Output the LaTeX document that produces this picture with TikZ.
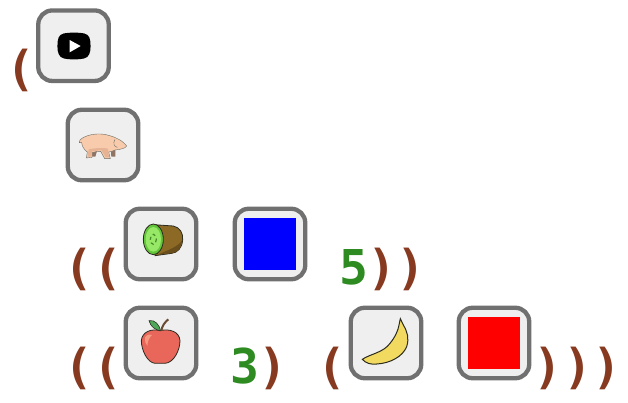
\documentclass[tikz,border=0pt]{standalone}
\usepackage{fontspec}
\newfontfamily\codefont{DejaVu Sans Mono}[BoldFont={DejaVu Sans Mono Bold}]
\definecolor{parencol}{HTML}{873A20}
\definecolor{numcol}{HTML}{2E8B22}
\definecolor{boxcol}{HTML}{707070}
\definecolor{boxfill}{HTML}{EFEFEF}
\definecolor{pigcol}{HTML}{F8CBAC}
\definecolor{pigshade}{HTML}{E6B394}
\definecolor{piglegs}{HTML}{8F7465}
\definecolor{kiwiskin}{HTML}{8C6A26}
\definecolor{kiwishade}{HTML}{6A4E1C}
\definecolor{kiwiflesh}{HTML}{62C63A}
\definecolor{kiwilight}{HTML}{96E866}
\definecolor{applecol}{HTML}{E8665A}
\definecolor{applelight}{HTML}{F49A80}
\definecolor{leafcol}{HTML}{4FA85A}
\definecolor{stemcol}{HTML}{6B4A32}
\definecolor{bananacol}{HTML}{F2DA60}
\definecolor{outlinecol}{HTML}{2B2B20}
\usetikzlibrary{positioning}

\begin{document}
\begin{tikzpicture}
	[x=1pt,y=-1pt,
	item node/.style={shape=rectangle,draw=boxcol,fill=boxfill,line width=4.3pt,rounded corners=14pt,minimum size=70.5pt,inner sep=0pt},
	paren node/.style={anchor=base,inner sep=0pt,text=parencol,font=\codefont\bfseries\fontsize{48}{48}\selectfont},
	num node/.style={anchor=base,inner sep=0pt,text=numcol,font=\codefont\bfseries\fontsize{48}{48}\selectfont},
	swatch node/.style={shape=rectangle,minimum size=52pt,inner sep=0pt},
	zoomed/.style={x=.33333pt,y=-.33333pt}
	]
	\useasboundingbox (0,0) rectangle (628,402);

	% boxes
	\node [item node] (play) at (73.5,45.7) {};
	\node [item node] (pig) at (103,145) {};
	\node [item node] (kiwi) at (161,244) {};
	\node [item node] (bluebox) at (270,244) {};
	\node [item node] (apple) at (161,343) {};
	\node [item node] (banana) at (386,343) {};
	\node [item node] (redbox) at (494,343) {};
	\node [swatch node,fill=blue] (blueswatch) at (bluebox) {};
	\node [swatch node,fill=red] (redswatch) at (redbox) {};

	% parens and numbers
	\node [paren node] (p1) at (21,85.5) {(};
	\node [paren node] (p2) at (79,284.5) {(};
	\node [paren node] (p3) at (108,284.5) {(};
	\node [num node] (five) at (353.5,284.5) {5};
	\node [paren node] (p4) at (382,284.5) {)};
	\node [paren node] (p5) at (411,284.5) {)};
	\node [paren node] (p6) at (79,383.5) {(};
	\node [paren node] (p7) at (108,383.5) {(};
	\node [num node] (three) at (245,383.5) {3};
	\node [paren node] (p8) at (273,383.5) {)};
	\node [paren node] (p9) at (332,383.5) {(};
	\node [paren node] (p10) at (548,383.5) {)};
	\node [paren node] (p11) at (578,383.5) {)};
	\node [paren node] (p12) at (607,383.5) {)};

	% play icon
	\begin{scope}[zoomed]
	\fill [black] (222,98) .. controls (250,98) and (262,100) .. (268,112) .. controls (273,125) and (273,152) .. (268,162) .. controls (262,176) and (250,178) .. (222,178) .. controls (194,178) and (182,176) .. (176,162) .. controls (171,152) and (171,125) .. (176,112) .. controls (182,100) and (194,98) .. (222,98) -- cycle;
	\fill [white] (209,120) -- (242,138) -- (209,157) -- cycle;

	% pig icon
	\fill [piglegs] (276,450) -- (274,470) -- (286,470) -- (292,450) -- cycle;
	\fill [piglegs] (332,445) -- (334,470) -- (346,470) -- (346,445) -- cycle;
	\draw [fill=pigcol,draw=outlinecol!70,line width=.4pt]
		(240,420) .. controls (255,405) and (290,398) .. (318,404)
		.. controls (335,408) and (345,412) .. (352,416)
		.. controls (362,420) and (372,428) .. (380,438)
		.. controls (375,446) and (362,448) .. (345,450)
		.. controls (338,454) and (330,456) .. (326,456)
		-- (331,476) -- (314,476) -- (302,454)
		.. controls (290,454) and (282,456) .. (276,458)
		-- (276,472) -- (259,474) -- (262,456)
		.. controls (250,448) and (246,436) .. (245,428)
		-- (238,428) -- cycle;
	\fill [pigshade] (266,448) .. controls (285,444) and (310,442) .. (324,446) -- (327,472) -- (317,472) -- (304,450) -- (276,454) -- (273,470) -- (263,470) -- cycle;
	\draw [outlinecol!70,line width=.4pt] (345,418) .. controls (338,430) and (342,440) .. (352,442);
	\end{scope}

	% kiwi icon
	\begin{scope}[shift={(60,200)},zoomed]
	\draw [fill=kiwiskin,draw=outlinecol,line width=.8pt] (280,74) -- (340,78) .. controls (360,82) and (370,100) .. (368,120) .. controls (366,145) and (352,158) .. (335,160) -- (285,167) -- cycle;
	\fill [kiwishade] (298,162) .. controls (325,150) and (355,140) .. (367,120) .. controls (366,145) and (352,158) .. (335,160) -- cycle;
	\draw [fill=kiwiflesh,draw=outlinecol,line width=.8pt] (280,118) ellipse [x radius=30,y radius=46];
	\fill [kiwilight] (280,118) ellipse [x radius=23,y radius=37];
	\draw [kiwiflesh!70!black,line width=1.2pt,dashed] (280,118) ellipse [x radius=9,y radius=15];

	% apple icon
	\draw [fill=applecol,draw=outlinecol,line width=.8pt] (300,392)
		.. controls (330,385) and (358,395) .. (360,422)
		.. controls (360,450) and (342,488) .. (315,490)
		.. controls (305,490) and (295,490) .. (285,490)
		.. controls (262,488) and (244,450) .. (244,422)
		.. controls (246,395) and (275,385) .. (300,392) -- cycle;
	\fill [applelight] (255,412) .. controls (262,402) and (272,402) .. (276,405) .. controls (268,412) and (262,425) .. (262,438) .. controls (256,432) and (254,422) .. (255,412) -- cycle;
	\draw [fill=leafcol,draw=outlinecol,line width=.6pt] (267,362) .. controls (285,358) and (298,375) .. (302,392) .. controls (285,390) and (272,380) .. (267,362) -- cycle;
	\draw [stemcol,line width=2pt] (304,392) .. controls (306,378) and (315,366) .. (325,358);
	\end{scope}

	% banana icon
	\begin{scope}[shift={(220,200)},zoomed]
	\draw [fill=bananacol,draw=outlinecol,line width=1pt] (427,478)
		.. controls (450,462) and (490,458) .. (510,430)
		.. controls (525,412) and (535,390) .. (537,375)
		-- (541,356) -- (550,375)
		.. controls (562,395) and (568,415) .. (560,440)
		.. controls (548,470) and (510,490) .. (470,492)
		.. controls (452,494) and (438,490) .. (427,478) -- cycle;
	\end{scope}
\end{tikzpicture}
\end{document}
